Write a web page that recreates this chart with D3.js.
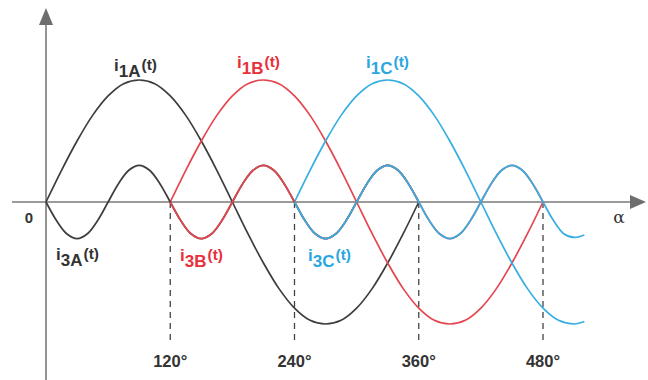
<!DOCTYPE html>
<html>
<head>
<meta charset="utf-8">
<script src="https://cdn.jsdelivr.net/npm/d3@7"></script>
<style>
  body { margin: 0; background: #fff; }
  svg { display: block; font-family: "Liberation Sans", Arial, sans-serif; }
</style>
</head>
<body>
<div id="chart"></div>
<script>
// angles (degrees) and values (fundamental amplitude = 1)
const fundAngles = [0, 15, 30, 45, 60, 75, 90, 105, 120, 135, 150, 165, 180, 195, 210, 225, 240, 255, 270, 285, 300, 315, 330, 345, 360];
const fundValues = [0, 0.26, 0.5, 0.71, 0.87, 0.97, 1, 0.97, 0.87, 0.71, 0.5, 0.26, 0, -0.26, -0.5, -0.71, -0.87, -0.97, -1, -0.97, -0.87, -0.71, -0.5, -0.26, 0];
const fundCAngles = [0, 15, 30, 45, 60, 75, 90, 105, 120, 135, 150, 165, 180, 195, 210, 225, 240, 255, 270, 280];
const fundCValues = [0, 0.26, 0.5, 0.71, 0.87, 0.97, 1, 0.97, 0.87, 0.71, 0.5, 0.26, 0, -0.26, -0.5, -0.71, -0.87, -0.97, -1, -0.98];

const harmAngles = [0, 10, 20, 30, 40, 50, 60, 70, 80, 90, 100, 110, 120, 130, 140, 150, 160, 170, 180, 190, 200, 210, 220, 230, 240, 250, 260, 270, 280, 290, 300, 310, 320, 330, 340, 350, 360];
const harmValues = [0, -0.15, -0.26, -0.3, -0.26, -0.15, 0, 0.15, 0.26, 0.3, 0.26, 0.15, 0, -0.15, -0.26, -0.3, -0.26, -0.15, 0, 0.15, 0.26, 0.3, 0.26, 0.15, 0, -0.15, -0.26, -0.3, -0.26, -0.15, 0, 0.15, 0.26, 0.3, 0.26, 0.15, 0];
const harmCAngles = [0, 10, 20, 30, 40, 50, 60, 70, 80, 90, 100, 110, 120, 130, 140, 150, 160, 170, 180, 190, 200, 210, 220, 230, 240, 250, 260, 270, 280];
const harmCValues = [0, -0.15, -0.26, -0.3, -0.26, -0.15, 0, 0.15, 0.26, 0.3, 0.26, 0.15, 0, -0.15, -0.26, -0.3, -0.26, -0.15, 0, 0.15, 0.26, 0.3, 0.26, 0.15, 0, -0.15, -0.26, -0.29, -0.27];

// phase starts of each curve
const phases = ['A', 'B', 'C'];
const phaseStart = [0, 120, 240];
const tickAngles = [120, 240, 360, 480];
const tickLabels = ['120°', '240°', '360°', '480°'];

const lineColors = { A: '#3d3d3d', B: '#e4464f', C: '#37aee2' };
const textColors = { A: '#333333', B: '#e8303b', C: '#2aa7df' };

const width = 648;
const height = 380;

const x = d3.scaleLinear().domain([0, 480]).range([46, 543]);
const y = d3.scaleLinear().domain([-1, 1]).range([324, 80]);

const svg = d3.select('#chart')
  .append('svg')
  .attr('width', width)
  .attr('height', height);

// axes
svg.append('line')
  .attr('x1', 12).attr('x2', 634)
  .attr('y1', y(0)).attr('y2', y(0))
  .attr('stroke', '#7a7a7a')
  .attr('stroke-width', 1.6);
svg.append('path')
  .attr('d', `M646,${y(0)} L630,${y(0) - 7} L630,${y(0) + 7} Z`)
  .attr('fill', '#6e6e6e');

svg.append('line')
  .attr('x1', x(0)).attr('x2', x(0))
  .attr('y1', 380).attr('y2', 22)
  .attr('stroke', '#7a7a7a')
  .attr('stroke-width', 1.6);
svg.append('path')
  .attr('d', `M${x(0)},8 L${x(0) - 7},25 L${x(0) + 7},25 Z`)
  .attr('fill', '#6e6e6e');

// dashed markers and labels
svg.selectAll('.marker')
  .data(tickAngles)
  .join('line')
  .attr('class', 'marker')
  .attr('x1', (d) => x(d)).attr('x2', (d) => x(d))
  .attr('y1', y(0)).attr('y2', 340)
  .attr('stroke', '#444')
  .attr('stroke-width', 1.3)
  .attr('stroke-dasharray', '6,5');

svg.selectAll('.tick-label')
  .data(tickAngles)
  .join('text')
  .attr('class', 'tick-label')
  .attr('x', (d) => x(d))
  .attr('y', 367)
  .attr('text-anchor', 'middle')
  .attr('font-size', 16.5)
  .attr('font-weight', 'bold')
  .attr('fill', '#333')
  .text((d, i) => tickLabels[i]);

svg.append('text')
  .attr('x', 29).attr('y', 223)
  .attr('text-anchor', 'middle')
  .attr('font-size', 15)
  .attr('font-weight', 'bold')
  .attr('fill', '#333')
  .text('0');

svg.append('text')
  .attr('x', 619).attr('y', 223)
  .attr('text-anchor', 'middle')
  .attr('font-size', 17)
  .attr('font-family', '"DejaVu Serif", serif')
  .attr('fill', '#333')
  .text('α');

const line = d3.line()
  .x((d) => x(d[0]))
  .y((d) => y(d[1]))
  .curve(d3.curveCatmullRom);

// fundamentals
phases.forEach((p, i) => {
  const angles = p === 'C' ? fundCAngles : fundAngles;
  const values = p === 'C' ? fundCValues : fundValues;
  svg.append('path')
    .datum(angles.map((a, j) => [a + phaseStart[i], values[j]]))
    .attr('fill', 'none')
    .attr('stroke', lineColors[p])
    .attr('stroke-width', 1.7)
    .attr('d', line);
});

// third harmonics
phases.forEach((p, i) => {
  const angles = p === 'C' ? harmCAngles : harmAngles;
  const values = p === 'C' ? harmCValues : harmValues;
  svg.append('path')
    .datum(angles.map((a, j) => [a + phaseStart[i], values[j]]))
    .attr('fill', 'none')
    .attr('stroke', lineColors[p])
    .attr('stroke-width', 1.7)
    .attr('d', line);
});

// curve labels: i, subscript, (t)
const labels = [
  { p: 'A', sub: '1A', x: 114, y: 71 },
  { p: 'B', sub: '1B', x: 237, y: 68 },
  { p: 'C', sub: '1C', x: 366, y: 68 },
  { p: 'A', sub: '3A', x: 56, y: 260 },
  { p: 'B', sub: '3B', x: 180, y: 261 },
  { p: 'C', sub: '3C', x: 308, y: 261 },
];

labels.forEach((l) => {
  const t = svg.append('text')
    .attr('x', l.x)
    .attr('y', l.y)
    .attr('fill', textColors[l.p])
    .attr('font-weight', 'bold');
  t.append('tspan').attr('font-size', 17).text('i');
  t.append('tspan').attr('font-size', 17).attr('dy', 6).text(l.sub);
  t.append('tspan').attr('font-size', 15.5).attr('dx', 1).attr('dy', -7).text('(t)');
});
</script>
</body>
</html>
